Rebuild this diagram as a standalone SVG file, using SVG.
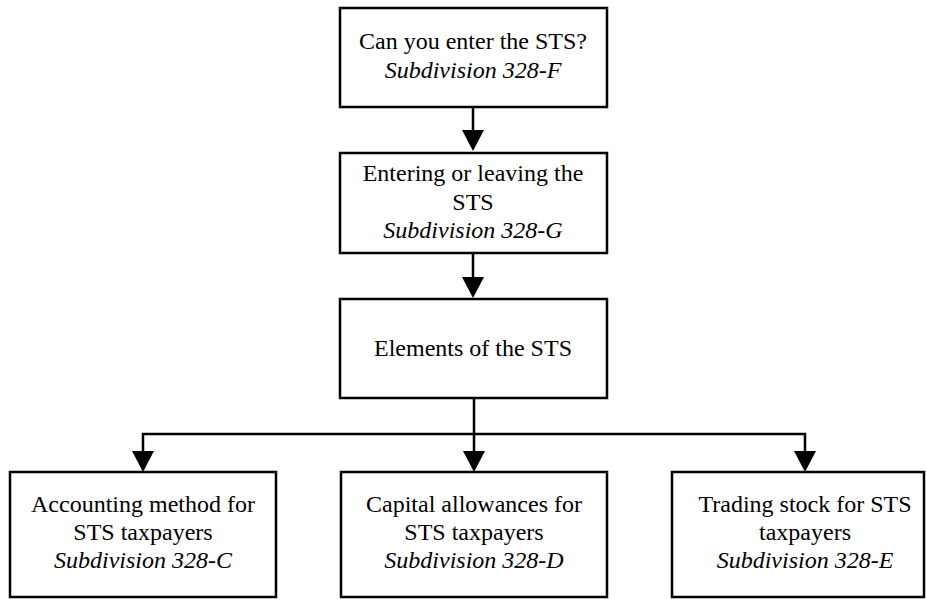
<svg xmlns="http://www.w3.org/2000/svg" width="926" height="599" viewBox="0 0 926 599">
<style>
.box{fill:#fff;stroke:#000;stroke-width:2.5}
.ln{fill:none;stroke:#000;stroke-width:2.5}
</style>
<g id="connectors">
<path class="ln" d="M473 107V130"/>
<polygon points="462,130 484,130 473,151" fill="#000"/>
<path class="ln" d="M473 253V277"/>
<polygon points="462,277 484,277 473,298" fill="#000"/>
<path class="ln" d="M474 398V451"/>
<polygon points="463,451 485,451 474,472" fill="#000"/>
<path class="ln" d="M143 451V434H805V451"/>
<polygon points="132,451 154,451 143,472" fill="#000"/>
<polygon points="794,451 816,451 805,472" fill="#000"/>
</g>
<g font-family="Liberation Serif" font-size="24" text-anchor="middle" fill="#000">
<g id="n1">
<rect class="box" x="340" y="8" width="267" height="99"/>
<text x="473" y="49">Can you enter the STS?</text>
<text x="473" y="78" font-style="italic">Subdivision 328-F</text>
</g>
<g id="n2">
<rect class="box" x="340" y="153" width="267" height="100"/>
<text x="473" y="181">Entering or leaving the</text>
<text x="473" y="210">STS</text>
<text x="473" y="238" font-style="italic">Subdivision 328-G</text>
</g>
<g id="n3">
<rect class="box" x="340" y="299" width="267" height="99"/>
<text x="473" y="356">Elements of the STS</text>
</g>
<g id="n4">
<rect class="box" x="10" y="472" width="266" height="125"/>
<text x="143" y="512">Accounting method for</text>
<text x="143" y="540">STS taxpayers</text>
<text x="143" y="568" font-style="italic">Subdivision 328-C</text>
</g>
<g id="n5">
<rect class="box" x="341" y="472" width="266" height="125"/>
<text x="474" y="512">Capital allowances for</text>
<text x="474" y="540">STS taxpayers</text>
<text x="474" y="568" font-style="italic">Subdivision 328-D</text>
</g>
<g id="n6">
<rect class="box" x="672" y="472" width="252" height="125"/>
<text x="805" y="512">Trading stock for STS</text>
<text x="805" y="540">taxpayers</text>
<text x="805" y="568" font-style="italic">Subdivision 328-E</text>
</g>
</g>
</svg>
